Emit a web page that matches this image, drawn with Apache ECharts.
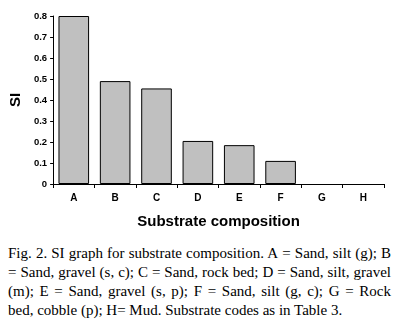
<!DOCTYPE html>
<html>
<head>
<meta charset="utf-8">
<script src="https://cdn.jsdelivr.net/npm/echarts@6/dist/echarts.min.js"></script>
<style>
  html, body { margin: 0; padding: 0; background: #fff; }
  #chart { width: 397px; height: 234px; }
  .caption {
    position: absolute;
    left: 8px;
    top: 244px;
    width: 383px;
    font-family: "Liberation Serif", serif;
    font-size: 15px;
    line-height: 19px;
    text-align: justify;
    color: #000;
  }
</style>
</head>
<body>
<div id="chart"></div>
<div class="caption">Fig. 2. SI graph for substrate composition. A&nbsp;=&nbsp;Sand, silt (g); B = Sand, gravel (s, c); C&nbsp;=&nbsp;Sand, rock bed; D&nbsp;=&nbsp;Sand, silt, gravel (m); E = Sand, gravel (s, p); F = Sand, silt (g, c); G = Rock bed, cobble (p); H= Mud. Substrate codes as in Table 3.</div>
<script>
const categories = ['A', 'B', 'C', 'D', 'E', 'F', 'G', 'H']
const siValues = [0.8, 0.49, 0.455, 0.205, 0.185, 0.11, 0, 0]
const yTicks = ['0', '0.1', '0.2', '0.3', '0.4', '0.5', '0.6', '0.7', '0.8']

const chart = echarts.init(document.getElementById('chart'))

const labelFont = {
  color: '#000',
  fontFamily: 'Liberation Sans, Arial, sans-serif',
  fontWeight: 'bold',
}

chart.setOption({
  backgroundColor: '#fff',
  animation: false,
  grid: {
    left: 46,
    right: 13,
    top: 16,
    bottom: 47,
  },
  xAxis: {
    type: 'category',
    data: categories,
    name: 'Substrate composition',
    nameLocation: 'middle',
    nameGap: 30,
    nameTextStyle: { ...labelFont, fontSize: 15 },
    axisLine: { lineStyle: { color: '#000', width: 1 } },
    axisTick: { show: true, length: 4, lineStyle: { color: '#000' } },
    axisLabel: { ...labelFont, fontSize: 10, margin: 9 },
  },
  yAxis: {
    type: 'value',
    min: 0,
    max: 0.8,
    interval: 0.1,
    name: 'SI',
    nameLocation: 'middle',
    nameGap: 15,
    nameTextStyle: { ...labelFont, fontSize: 15 },
    axisLine: { show: true, lineStyle: { color: '#000', width: 1 } },
    axisTick: { show: true, length: 3, lineStyle: { color: '#000' } },
    splitLine: { show: false },
    axisLabel: {
      ...labelFont,
      fontSize: 9.5,
      margin: 6,
      formatter: (v) => yTicks[Math.round(v * 10)],
    },
  },
  series: [
    {
      type: 'bar',
      // zero bars get no outline so nothing sits on the axis
      data: siValues.map((v) => ({
        value: v,
        itemStyle: { borderWidth: v === 0 ? 0 : 1 },
      })),
      barCategoryGap: '26%',
      itemStyle: {
        color: '#c0c0c0',
        borderColor: '#000',
        borderWidth: 1,
      },
    },
  ],
})
</script>
</body>
</html>
